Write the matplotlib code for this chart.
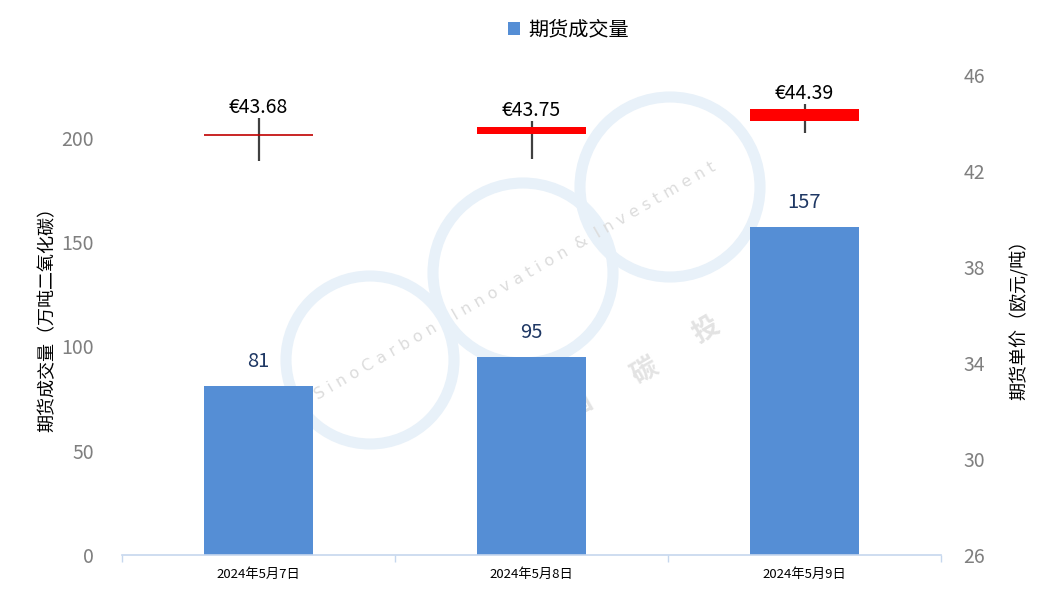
import matplotlib
matplotlib.use("Agg")
import matplotlib.pyplot as plt
from matplotlib.patches import Circle
from matplotlib.transforms import IdentityTransform
import numpy as np

plt.rcParams['font.family'] = ['Noto Sans CJK SC', 'DejaVu Sans']

dates = ["2024年5月7日", "2024年5月8日", "2024年5月9日"]
volume = [81, 95, 157]
price_open = [43.50, 43.55, 44.10]
price_close = [43.50, 43.83, 44.58]
price_high = [44.20, 44.10, 44.80]
price_low = [42.40, 42.50, 43.60]
price_labels = ["€43.68", "€43.75", "€44.39"]

W, H = 1043, 594
fig = plt.figure(figsize=(W / 100, H / 100), dpi=100)
fig.patch.set_facecolor("white")

# watermark (pixel coordinates, image y from top)
def px(x, y):
    return (x, H - y)

ring_color = "#e8f1f9"
for (cx, cy, r) in [(370, 360, 84), (523, 273, 90), (670, 187, 90)]:
    c = Circle(px(cx, cy), r, transform=IdentityTransform(), fill=False,
               edgecolor=ring_color, linewidth=8, zorder=0)
    fig.patches.append(c)
fig.text(*px(318, 400), "S i n o C a r b o n    I n n o v a t i o n  &  I n v e s t m e n t",
         transform=IdentityTransform(), rotation=30, rotation_mode="anchor",
         fontsize=11.5, color="#dcdcdc", ha="left", va="baseline", zorder=0,
         family="DejaVu Sans")
for (x, y, t) in [(580, 405, "国"), (645, 372, "碳"), (706, 330, "投")]:
    fig.text(*px(x, y), t, transform=IdentityTransform(), rotation=30,
             fontsize=19, color="#e3e3e3", ha="center", va="center",
             fontweight="bold", zorder=0)

ax = fig.add_axes([122 / W, (H - 555) / H, (941 - 122) / W, (555 - 75) / H])
ax.set_zorder(1)
ax.patch.set_alpha(0)
x = np.arange(len(dates))
bars = ax.bar(x, volume, width=0.4, color="#558ed5", zorder=2, label="期货成交量")
for xi, v in zip(x, volume):
    ax.annotate(f"{v}", (xi, v), xytext=(0, 10), textcoords="offset points",
                ha="center", va="bottom", fontsize=14.5, color="#1f3864")

ax.set_xlim(-0.5, len(dates) - 0.5)
ax.set_ylim(0, 230)
ax.set_yticks([0, 50, 100, 150, 200])
ax.tick_params(axis="y", length=0, labelsize=14, labelcolor="#7f7f7f", pad=20)
ax.set_xticks(x)
ax.set_xticklabels(dates)
ax.tick_params(axis="x", which="major", length=0, labelsize=9.5, pad=9)
ax.set_xticks(np.arange(len(dates) + 1) - 0.5, minor=True)
ax.tick_params(axis="x", which="minor", length=5, color="#c6d7ee", width=1)
for s in ["top", "left", "right"]:
    ax.spines[s].set_visible(False)
ax.spines["bottom"].set_color("#c6d7ee")
ax.spines["bottom"].set_linewidth(1.2)
ax.set_ylabel("期货成交量（万吨二氧化碳）", fontsize=13, labelpad=4)

ax2 = ax.twinx()
ax2.set_zorder(2)
ax2.patch.set_alpha(0)
ax2.set_ylim(26, 46)
ax2.set_yticks([26, 30, 34, 38, 42, 46])
ax2.tick_params(axis="y", length=0, labelsize=14, labelcolor="#7f7f7f", pad=16)
for s in ["top", "left", "right", "bottom"]:
    ax2.spines[s].set_visible(False)
ax2.set_ylabel("期货单价（欧元/吨）", fontsize=13, labelpad=18)

for xi, o, c, h, l, lab in zip(x, price_open, price_close, price_high, price_low, price_labels):
    ax2.vlines(xi, l, h, color="#404040", linewidth=1.6, zorder=3)
    if abs(c - o) < 1e-6:
        ax2.hlines(o, xi - 0.2, xi + 0.2, color="#c00000", linewidth=1.2, zorder=4)
    else:
        ax2.bar(xi, abs(c - o), bottom=min(o, c), width=0.4, color="#ff0000", zorder=4)
    ax2.annotate(lab, (xi, h), xytext=(0, 0), textcoords="offset points",
                 ha="center", va="bottom", fontsize=14, color="black")

fig.legend(handles=[bars], labels=["期货成交量"], loc="center",
           bbox_to_anchor=(568 / W, (H - 30) / H), frameon=False, fontsize=14.5,
           handlelength=0.6, handleheight=0.6, handletextpad=0.4)

fig.savefig("out.png", dpi=100)
